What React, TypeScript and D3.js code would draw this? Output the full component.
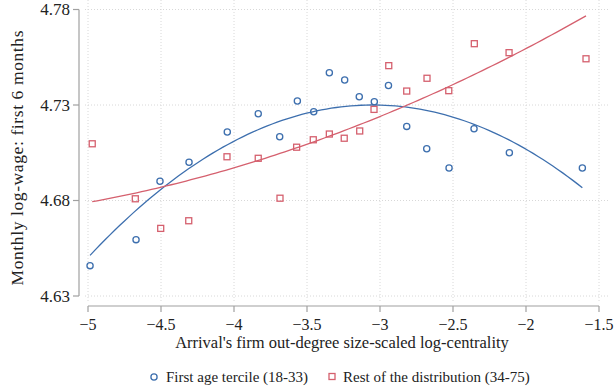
import React from "react";
import * as d3 from "d3";

// Binned means: first age tercile (18-33)
const youngX = [-4.986, -4.671, -4.507, -4.308, -4.046, -3.834, -3.687, -3.566, -3.454, -3.347,
  -3.242, -3.142, -3.039, -2.942, -2.817, -2.68, -2.527, -2.356, -2.114, -1.614];
const youngY = [4.6459, 4.6595, 4.6901, 4.7, 4.7159, 4.7254, 4.7134, 4.7321, 4.7265, 4.7469,
  4.7431, 4.7343, 4.7317, 4.7402, 4.7188, 4.7071, 4.697, 4.7176, 4.705, 4.697];

// Binned means: rest of the distribution (34-75)
const restX = [-4.971, -4.676, -4.502, -4.31, -4.048, -3.834, -3.685, -3.571, -3.457, -3.347,
  -3.245, -3.139, -3.041, -2.94, -2.817, -2.678, -2.529, -2.354, -2.116, -1.589];
const restY = [4.7097, 4.6809, 4.6654, 4.6694, 4.7029, 4.7021, 4.6812, 4.7079, 4.7118, 4.7148,
  4.7126, 4.7164, 4.7277, 4.7506, 4.7373, 4.744, 4.7375, 4.7621, 4.7574, 4.7542];

// Quadratic fit coefficients [a, b, c] for y = a + b x + c x^2 (estimated on the underlying microdata)
const youngFitCoef = [4.53465, -0.1281, -0.021];
const restFitCoef = [4.85674, 0.057288, 0.004346];

const xTicks = [-5, -4.5, -4, -3.5, -3, -2.5, -2, -1.5];
const yTicks = [4.63, 4.68, 4.73, 4.78];

const seriesLabels = ["First age tercile (18-33)", "Rest of the distribution (34-75)"];

const BLUE = "#3d6fae";
const RED = "#d5606e";
const FONT = "'Liberation Serif', serif";

function fitPoints(coef: number[], xs: number[]) {
  const [a, b, c] = coef;
  const [lo, hi] = d3.extent(xs) as [number, number];
  return d3.range(0, 101).map((i) => {
    const x = lo + ((hi - lo) * i) / 100;
    return [x, a + b * x + c * x * x] as [number, number];
  });
}

export default function App() {
  const W = 615, H = 388;
  const x = d3.scaleLinear().domain([-5, -1.5]).range([88, 599]);
  const y = d3.scaleLinear().domain([4.63, 4.78]).range([296, 9.5]);
  const line = d3.line<[number, number]>().x((d) => x(d[0])).y((d) => y(d[1]));

  const youngFit = fitPoints(youngFitCoef, youngX);
  const restFit = fitPoints(restFitCoef, restX);

  const fmtX = (v: number) => (v < 0 ? "\u2212" + Math.abs(v) : String(v));
  const axisY = 306;
  const axisX = 79;

  return (
    <svg width={W} height={H} style={{ position: "absolute", left: 0, top: 0, background: "#fff" }}>
      <rect x={0} y={0} width={W} height={H} fill="#fff" />
      {/* grid */}
      {yTicks.map((t) => (
        <line key={"gy" + t} x1={85} x2={608} y1={y(t)} y2={y(t)} stroke="#d8d8d8" strokeWidth={1} strokeDasharray="1 2" />
      ))}
      {xTicks.map((t) => (
        <line key={"gx" + t} x1={x(t)} x2={x(t)} y1={0} y2={302} stroke="#d8d8d8" strokeWidth={1} strokeDasharray="1 2" />
      ))}
      {/* axes */}
      <line x1={axisX} x2={axisX} y1={y(4.78)} y2={y(4.63)} stroke="#a0a0a0" strokeWidth={1.2} />
      <line x1={x(-5)} x2={x(-1.5)} y1={axisY} y2={axisY} stroke="#a0a0a0" strokeWidth={1.2} />
      {yTicks.map((t) => (
        <g key={"ty" + t}>
          <line x1={axisX - 6} x2={axisX} y1={y(t)} y2={y(t)} stroke="#a0a0a0" strokeWidth={1.2} />
          <text x={70} y={y(t)} dy="0.35em" textAnchor="end" fontFamily={FONT} fontSize={17} fill="#222">
            {t.toFixed(2)}
          </text>
        </g>
      ))}
      {xTicks.map((t) => (
        <g key={"tx" + t}>
          <line x1={x(t)} x2={x(t)} y1={axisY} y2={axisY + 6} stroke="#a0a0a0" strokeWidth={1.2} />
          <text x={x(t)} y={330} textAnchor="middle" fontFamily={FONT} fontSize={16} fill="#222">
            {fmtX(t)}
          </text>
        </g>
      ))}
      {/* titles */}
      <text x={342} y={348.3} textAnchor="middle" fontFamily={FONT} fontSize={16.5} fill="#222">
        Arrival's firm out-degree size-scaled log-centrality
      </text>
      <text transform="translate(23,158) rotate(-90)" textAnchor="middle" fontFamily={FONT} fontSize={17.5}
        textLength={255} lengthAdjust="spacing" fill="#222">
        Monthly log-wage: first 6 months
      </text>
      {/* fitted curves */}
      <path d={line(youngFit) || ""} fill="none" stroke={BLUE} strokeWidth={1.3} />
      <path d={line(restFit) || ""} fill="none" stroke={RED} strokeWidth={1.3} />
      {/* markers */}
      {youngX.map((v, i) => (
        <circle key={"c" + i} cx={x(v)} cy={y(youngY[i])} r={3.1} fill="none" stroke={BLUE} strokeWidth={1.3} />
      ))}
      {restX.map((v, i) => (
        <rect key={"s" + i} x={x(v) - 3} y={y(restY[i]) - 3} width={6} height={6} fill="none" stroke={RED} strokeWidth={1.3} />
      ))}
      {/* legend */}
      <circle cx={154} cy={377} r={3.1} fill="none" stroke={BLUE} strokeWidth={1.3} />
      <text x={166} y={382} fontFamily={FONT} fontSize={15} fill="#222">{seriesLabels[0]}</text>
      <rect x={329} y={373.5} width={6} height={6} fill="none" stroke={RED} strokeWidth={1.3} />
      <text x={343} y={382} fontFamily={FONT} fontSize={15} fill="#222">{seriesLabels[1]}</text>
    </svg>
  );
}
